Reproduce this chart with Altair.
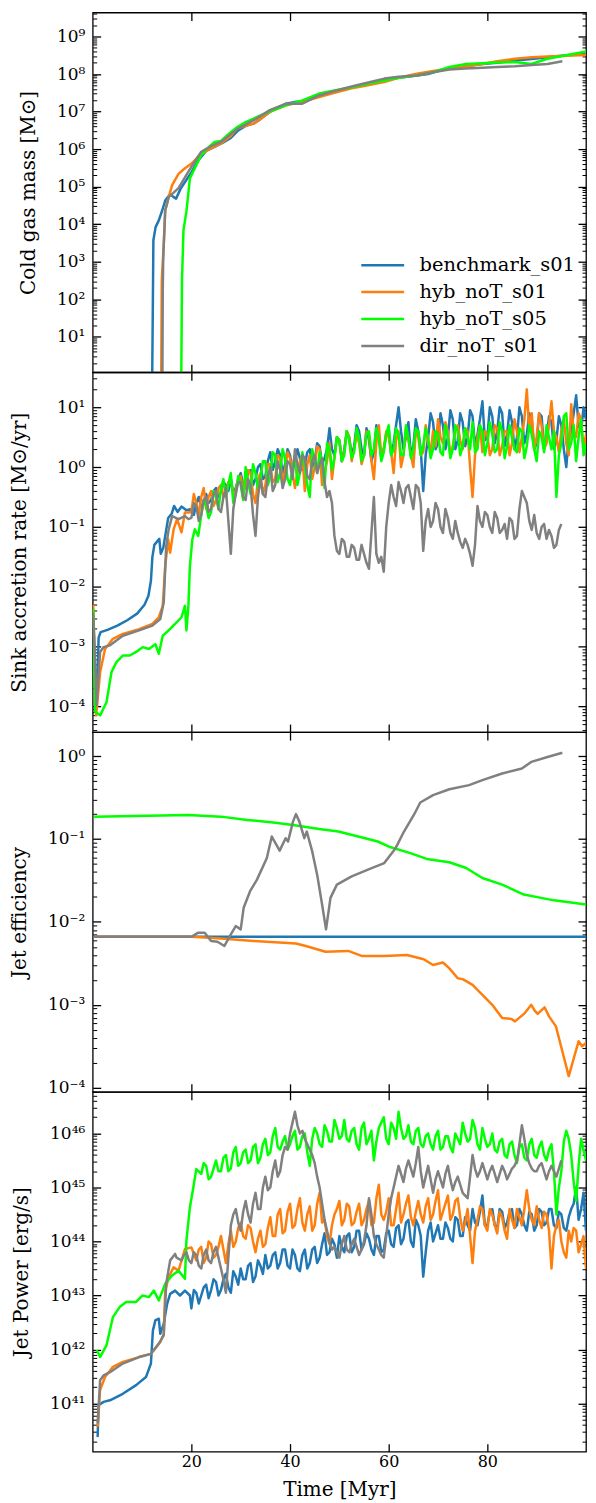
import numpy as np
import pandas as pd
import altair as alt

FONT = "DejaVu Serif"
W, H = 495, 361

SERIES = ["benchmark_s01", "hyb_noT_s01", "hyb_noT_s05", "dir_noT_s01"]
COLORS = ["#1f77b4", "#ff7f0e", "#00ff00", "#808080"]
XTICKS = [20, 40, 60, 80]

# ---------------- Panel 1: cold gas mass (log10 Msun) ----------------
P1_BENCH_T = [12.0, 12.2, 12.3, 12.75, 13.4, 14.1, 14.7, 15.7, 16.4, 16.9, 17.8, 18.7, 20.0, 21.4, 23, 25,
              26.5, 28, 29.5, 31, 32.6, 34, 35.9, 37.5, 39.2, 41, 42.5, 44, 45.9, 48, 50, 52.5, 55, 57,
              59.1, 62, 65.7, 68, 70, 72.3, 75, 79, 82, 85.6, 89, 92.2, 96, 100]
P1_BENCH = [-1, 2.0, 3.57, 3.92, 4.1, 4.37, 4.63, 4.8, 4.72, 4.68, 4.94, 5.12, 5.38, 5.7, 5.95, 6.08,
            6.18, 6.3, 6.5, 6.62, 6.68, 6.8, 6.99, 7.1, 7.21, 7.26, 7.26, 7.35, 7.43, 7.5, 7.56, 7.65, 7.72, 7.78,
            7.83, 7.9, 7.96, 8.0, 8.08, 8.16, 8.2, 8.27, 8.3, 8.36, 8.4, 8.45, 8.5, 8.54]
P1_HYB1_T = [13.85, 14.0, 14.4, 14.7, 15.1, 15.4, 16.1, 17.4, 18.7, 20.1, 21.4, 23.3, 26, 28, 29.3, 31,
             32.6, 34, 35.9, 39.2, 42.5, 45.9, 49, 52.5, 55, 59.1, 62, 65.7, 69, 72.3, 75.5, 79, 82, 85.6,
             89, 92.2, 96, 100]
P1_HYB1 = [-1, 2.5, 3.45, 4.37, 4.55, 4.72, 5.04, 5.34, 5.49, 5.62, 5.8, 5.97, 6.15, 6.35, 6.55, 6.62,
           6.68, 6.8, 6.99, 7.17, 7.26, 7.39, 7.5, 7.62, 7.68, 7.79, 7.9, 8.01, 8.08, 8.14, 8.2, 8.27, 8.34, 8.41,
           8.45, 8.47, 8.49, 8.51]
P1_HYB5_T = [17.9, 18.1, 18.4, 19.0, 19.7, 20.7, 22.0, 23.5, 24.7, 26, 27.5, 29.3, 31, 32.6, 34, 35.9,
             39.2, 42.5, 45.9, 49, 52.5, 55, 59.1, 62, 65.7, 69, 72.3, 75.7, 79, 82, 85.6, 88.9, 92.2, 96, 100]
P1_HYB5 = [-1, 2.5, 3.84, 4.34, 5.22, 5.49, 5.84, 6.05, 6.19, 6.22, 6.4, 6.59, 6.72, 6.81, 6.9, 7.0,
           7.17, 7.3, 7.48, 7.56, 7.65, 7.72, 7.83, 7.9, 7.96, 8.05, 8.19, 8.27, 8.29, 8.31, 8.32, 8.27, 8.41, 8.5, 8.6]
P1_DIR_T = [14.1, 14.2, 14.3, 14.7, 15.4, 17.4, 19.4, 22, 24, 26, 28, 29.5, 30.8, 33, 35.9, 39.2, 42.5,
            45.9, 49, 52.5, 55, 59.1, 62, 65.7, 69, 72.3, 75.5, 79, 82, 85.6, 89, 92.2, 95.2]
P1_DIR = [-1, 2.2, 3.13, 4.37, 4.72, 4.96, 5.4, 5.93, 6.08, 6.19, 6.4, 6.55, 6.64, 6.8, 7.04, 7.21, 7.21,
          7.43, 7.55, 7.67, 7.75, 7.88, 7.93, 7.96, 8.05, 8.12, 8.15, 8.17, 8.19, 8.21, 8.24, 8.27, 8.34]

# ---------------- Panel 2: sink accretion rate (log10 Msun/yr) ----------------
# early part (explicit times), then noisy part on a 1 Myr grid from *_START plus the half-Myr points (*_MID)
P2_BENCH_T0 = [0.1, 0.5, 0.9, 1.2, 1.6, 3, 5, 7, 9, 10.5, 11.3, 11.8, 12.1, 12.5, 13.0, 13.5, 13.8, 14.3,
               14.8, 15.3, 16, 16.5, 17.2, 18, 19]
P2_BENCH_0 = [-2.5, -3.4, -3.8, -2.85, -2.76, -2.72, -2.65, -2.56, -2.45, -2.3, -2.15, -1.9, -1.5, -1.3,
              -1.25, -1.2, -1.45, -1.35, -1.1, -0.85, -0.78, -0.65, -0.75, -0.66, -0.72]
P2_BENCH_START = 20
P2_BENCH = [-0.7, -0.6, -0.68, -0.45, -0.55, -0.35, -0.42, -0.3, -0.2, -0.35,
            -0.1, -0.25, -0.05, -0.2, 0.05, -0.15, 0.25, 0.1, 0.2, 0.05,
            0.2, 0.1, 0.15, 0.05, 0.3, 0.1, 0.35, 0.15, 0.65, 0.2,
            0.45, 0.3, 0.5, 0.35, 0.6, 0.2, 0.45, 0.25, 0.5, 0.3,
            0.65, 0.4, 1.0, 0.3, 0.75, 0.35, 0.6, -0.4, 0.5, 0.75,
            0.4, 0.7, 0.5, 0.8, 0.45, 0.75, 0.5, 0.85, 0.55, 1.1,
            0.5, 0.85, 0.6, 0.9, 0.55, 0.75, 0.5, 0.85, 0.55, 0.8,
            0.4, 0.85, 0.5, 0.75, 0.45, 0.7, 0.0, 0.6, 1.2, 0.6,
            0.8]
P2_BENCH_MID = [-0.8, -0.5, -0.6, -0.6, -0.4, -0.5, -0.25, -0.4, -0.45, -0.2,
                -0.3, -0.1, -0.3, 0.0, -0.2, 0.1, -0.05, 0.3, -0.1, 0.3,
                -0.05, 0.3, -0.05, 0.25, 0.0, 0.4, 0.05, 0.3, 0.3, 0.5,
                0.1, 0.6, 0.2, 0.7, 0.3, 0.65, 0.1, 0.7, 0.15, 0.55,
                0.2, 0.7, 0.6, 0.5, 0.2, 0.8, 0.3, 0.2, 0.9, 0.3,
                0.9, 0.3, 0.95, 0.3, 0.9, 0.35, 0.95, 0.35, 0.8, 0.45,
                1.0, 0.4, 1.0, 0.35, 0.95, 0.3, 1.0, 0.4, 0.9, 0.3,
                0.9, 0.3, 0.85, 0.3, 0.85, 0.3, 0.5, 0.9, 0.7, 1.0]
P2_HYB1_T0 = [0.1, 0.7, 1.5, 2.5, 4.1, 6.1, 9.4, 12.1, 13.4, 14.2, 14.7, 15.3, 15.7, 16.4, 17.1, 18.0, 18.7, 19.4]
P2_HYB1_0 = [-2.3, -4.15, -3.43, -3.04, -2.87, -2.79, -2.71, -2.62, -2.51, -2.32, -1.65, -1.21, -1.43,
             -1.04, -0.87, -1.09, -0.76, -0.76]
P2_HYB1_START = 20
P2_HYB1 = [-0.75, -0.6, -0.5, -0.7, -0.4, -0.55, -0.3, -0.45, -0.2, -0.4,
           -0.15, -0.35, -0.1, -0.6, -0.1, -0.3, 0.05, -0.2, 0.15, -0.05,
           0.15, -0.35, 0.1, -0.4, 0.2, 0.0, 0.3, -0.1, 0.4, 0.15,
           0.45, 0.25, 0.5, 0.3, 0.4, 0.2, 0.55, -0.2, 0.7, 0.3,
           0.5, -0.1, 0.6, 0.2, 0.45, 0.0, 0.5, 0.25, 0.4, 0.6,
           0.8, 0.4, 0.6, 0.35, 0.7, 0.3, 0.6, -0.5, 0.5, 0.25,
           0.55, 0.3, 0.65, 0.35, 0.6, 0.4, 0.6, 0.5, 1.3, 0.9,
           0.5, 0.7, 0.4, 1.1, 0.5, 0.6, 0.4, 1.05, 0.5, 0.8,
           0.55]
P2_HYB1_MID = [-0.45, -0.8, -0.35, -0.5, -0.65, -0.35, -0.5, -0.25, -0.45, -0.2,
               -0.4, -0.05, -0.45, -0.2, -0.45, 0.05, -0.25, 0.2, -0.3, 0.25,
               -0.1, -0.1, 0.2, 0.05, -0.2, 0.35, -0.3, 0.1, -0.2, 0.5,
               0.1, 0.6, 0.1, 0.55, 0.05, 0.6, 0.1, 0.4, 0.2, 0.6,
               0.25, 0.45, 0.0, 0.65, 0.2, 0.6, 0.2, 0.7, 0.25, 0.35,
               0.5, 0.75, 0.2, 0.6, 0.45, 0.65, 0.0, 0.2, 0.7, 0.6,
               0.2, 0.7, 0.2, 0.6, 0.2, 0.8, 0.25, 0.8, 0.6, 0.3,
               0.9, 0.3, 0.7, 0.6, 0.25, 0.8, 0.2, 0.6, 0.9, 0.3]
P2_HYB5_T0 = [0.1, 0.5, 1.5, 2.8, 3.8, 4.8, 6.1, 7.5, 8.8, 10.1, 11.4, 12.7, 13.4, 14.2, 15.4, 16.7, 18.0,
              18.7, 19.0, 19.4, 19.7, 20.2, 20.7, 21.4]
P2_HYB5_0 = [-2.37, -4.09, -4.15, -3.93, -3.43, -3.26, -3.15, -3.15, -3.09, -3.01, -3.04, -2.96, -3.12,
             -2.82, -2.73, -2.62, -2.51, -2.32, -2.73, -2.32, -1.65, -1.21, -1.04, -1.15]
P2_HYB5_START = 22
P2_HYB5 = [-0.8, -0.65, -0.75, -0.5, -0.35, -0.5, -0.1, -0.45, -0.3, 0.0,
           -0.45, -0.1, -0.2, 0.1, -0.15, 0.2, -0.1, 0.15, -0.3, 0.2,
           -0.1, 0.0, -0.5, 0.1, 0.25, -0.35, 0.3, 0.15, 0.45, 0.2,
           0.45, 0.25, 0.5, 0.2, 0.6, 0.3, 0.5, 0.25, 0.7, 0.3,
           0.55, 0.2, 0.5, 0.3, 0.6, 0.35, 0.5, 0.3, 0.55, 0.2,
           0.5, 0.3, 0.6, 0.35, 0.5, 0.75, 0.3, 0.6, 0.4, 0.55,
           0.3, 0.6, 0.35, 0.5, 0.25, 0.6, 0.35, 0.55, 0.1, 0.5,
           0.7, 0.3, -0.5, 0.4, 0.9, 0.4, 0.1, 0.8, 0.4]
P2_HYB5_MID = [-0.55, -0.85, -0.4, -0.7, -0.2, -0.3, -0.6, -0.15, -0.55, -0.25,
               0.05, -0.35, 0.1, -0.3, 0.25, -0.25, 0.3, -0.2, 0.0, -0.3,
               0.25, -0.3, 0.3, -0.1, 0.1, 0.4, -0.05, 0.5, 0.1, 0.6,
               0.15, 0.65, 0.1, 0.55, 0.2, 0.65, 0.1, 0.55, 0.2, 0.65,
               0.2, 0.7, 0.15, 0.65, 0.2, 0.65, 0.15, 0.6, 0.25, 0.7,
               0.15, 0.7, 0.2, 0.65, 0.3, 0.25, 0.7, 0.2, 0.75, 0.25,
               0.75, 0.15, 0.7, 0.3, 0.65, 0.15, 0.7, 0.3, 0.6, 0.25,
               0.5, 0.6, 0.2, 0.85, 0.3, 0.7, 0.5, 0.2]
P2_DIR_T0 = [0.1, 0.8, 1.5, 2.2, 3.5, 6.1, 9.4, 12.1, 13.7, 14.4, 14.9, 15.4, 16.1, 17.4, 18.7, 19.4]
P2_DIR_0 = [-2.43, -3.98, -3.09, -3.01, -2.98, -2.82, -2.73, -2.65, -2.54, -2.26, -1.32, -1.04, -0.82,
            -0.87, -0.82, -0.87]
P2_DIR_START = 20
P2_DIR = [-0.85, -0.65, -0.8, -0.5, -0.7, -0.4, -0.75, -0.35, -1.45, -0.45,
          -0.25, -0.55, -0.3, -1.15, -0.2, -0.5, 0.0, -0.3, -0.05, -0.2,
          0.05, 0.3, -0.1, 0.15, -0.2, 0.2, 0.05, -0.25, -0.4, -1.15,
          -1.45, -1.25, -1.5, -1.35, -1.55, -1.45, -1.7, -0.5, -1.6, -1.75,
          -0.6, -0.5, -0.25, -0.6, -0.3, -0.7, -0.35, -1.4, -0.7, -0.9,
          -0.7, -1.1, -0.85, -1.2, -1.1, -1.35, -1.3, -1.65, -0.65, -1.0,
          -0.8, -1.1, -0.85, -1.05, -1.2, -0.9, -1.15, -0.4, -0.6, -1.05,
          -1.1, -1.0, -1.2, -1.15, -1.3, -0.95]
P2_DIR_MID = [-0.6, -0.9, -0.55, -0.75, -0.45, -0.7, -0.5, -0.9, -0.7, -0.25,
              -0.5, -0.2, -0.8, -0.5, -0.45, -0.15, -0.4, 0.1, -0.35, 0.1,
              -0.2, 0.05, 0.2, -0.15, 0.1, -0.1, 0.15, -0.5, -0.6, -1.4,
              -1.2, -1.5, -1.3, -1.55, -1.3, -1.6, -1.1, -1.45, -1.5, -1.0,
              -0.3, -0.65, -0.4, -0.35, -0.5, -0.3, -0.6, -0.9, -1.0, -0.6,
              -1.0, -0.7, -1.1, -0.9, -1.25, -1.2, -1.45, -1.3, -0.9, -0.75,
              -1.0, -0.75, -1.1, -0.95, -0.85, -1.2, -0.7, -0.5, -0.9, -0.8,
              -1.2, -0.95, -1.05, -1.35, -1.05]

# ---------------- Panel 3: jet efficiency (log10) ----------------
P3_BENCH_T = [0.3, 100]
P3_BENCH = [-2.18, -2.18]
P3_HYB1_T = [0.3, 20, 26, 32.6, 37, 41.2, 43.2, 47.2, 51.8, 54.5, 59.1, 63.7, 65.7, 67.1, 69, 71, 72.3, 74,
             75, 77, 79, 81, 83, 84.9, 85.6, 87.6, 88.9, 89.6, 90.2, 91.6, 92.5, 93.9, 95.2, 96.5, 98.5, 99.2, 100]
P3_HYB1 = [-2.18, -2.18, -2.2, -2.23, -2.245, -2.26, -2.29, -2.36, -2.35, -2.41, -2.41, -2.40, -2.43, -2.45,
           -2.52, -2.49, -2.56, -2.68, -2.69, -2.76, -2.88, -3.0, -3.16, -3.17, -3.2, -3.1, -3.0, -3.07,
           -3.11, -3.03, -3.14, -3.26, -3.56, -3.86, -3.44, -3.5, -3.46]
P3_HYB5_T = [0.3, 19.4, 26, 31.3, 36.6, 40.6, 45.9, 49.8, 53.8, 57.8, 60.4, 64.4, 67.7, 72.3, 75.7, 79, 83,
             87.4, 90.9, 93.5, 100]
P3_HYB5 = [-0.73, -0.71, -0.73, -0.77, -0.8, -0.83, -0.88, -0.91, -0.97, -1.03, -1.1, -1.17, -1.24, -1.28,
           -1.35, -1.47, -1.55, -1.67, -1.71, -1.74, -1.79]
P3_DIR_T = [0.3, 20, 21.4, 22.7, 24, 25.3, 26.7, 28, 29, 30, 30.6, 31.9, 33.3, 35.3, 36.3, 37.9, 39.1, 39.6,
            40.6, 41.2, 41.9, 42.9, 43.4, 44.5, 45.5, 46.5, 47.3, 48.2, 49.5, 52.5, 55.8, 59.1, 61.4, 63.1,
            65.1, 66.4, 69, 72.3, 76.3, 79, 83, 87, 88.9, 92.2, 95.2]
P3_DIR = [-2.18, -2.18, -2.13, -2.13, -2.23, -2.24, -2.29, -2.15, -2.05, -2.09, -1.83, -1.63, -1.49, -1.23,
          -0.97, -1.14, -0.99, -1.03, -0.79, -0.7, -0.79, -0.99, -0.91, -1.15, -1.43, -1.79, -2.09, -1.71,
          -1.55, -1.45, -1.37, -1.29, -1.11, -0.91, -0.71, -0.56, -0.47, -0.4, -0.35, -0.29, -0.21, -0.15,
          -0.07, -0.01, 0.04]

# ---------------- Panel 4: jet power (log10 erg/s) ----------------
P4_BENCH_T0 = [1.0, 1.2, 2.2, 3.5, 6.1, 8.8, 10.8, 11.8, 12.2, 12.7, 13.4, 13.7, 14.4, 15.1, 15.7, 16.7,
               17.7, 18.7, 19.7]
P4_BENCH_0 = [40.38, 40.97, 41.03, 41.06, 41.18, 41.34, 41.49, 41.74, 42.35, 42.54, 42.57, 42.29, 42.48,
              42.85, 43.03, 43.09, 43.0, 43.09, 43.0]
P4_BENCH_START = 20
P4_BENCH = [42.76, 43.05, 43.0, 43.2, 43.1, 43.25, 43.1, 43.4, 43.05, 43.35,
            43.5, 43.3, 43.6, 43.35, 43.55, 43.75, 43.55, 43.8, 43.6, 43.85,
            43.5, 43.75, 43.45, 43.85, 43.6, 43.9, 43.7, 44.15, 43.8, 43.95,
            44.1, 43.8, 44.15, 43.9, 44.2, 43.95, 44.05, 43.75, 44.1, 43.85,
            44.2, 43.9, 44.3, 44.05, 44.4, 43.9, 44.3, 43.35, 44.2, 44.0,
            44.3, 44.05, 44.25, 44.0, 44.4, 44.1, 44.3, 44.6, 44.3, 44.85,
            44.3, 44.6, 44.25, 44.55, 44.35, 44.6, 44.3, 44.5, 44.2, 44.5,
            44.3, 44.55, 44.35, 44.6, 44.25, 44.5, 44.2, 44.6, 45.0, 44.6,
            44.2]
P4_BENCH_MID = [43.1, 42.85, 43.15, 42.95, 43.3, 43.0, 43.3, 43.15, 43.45, 43.2,
                43.3, 43.55, 43.25, 43.65, 43.4, 43.5, 43.75, 43.5, 43.85, 43.55,
                43.85, 43.5, 43.75, 43.5, 43.85, 43.6, 43.95, 43.75, 44.05, 43.7,
                43.9, 44.1, 43.8, 44.2, 43.85, 44.15, 43.85, 44.1, 43.8, 44.15,
                43.95, 44.25, 43.95, 44.35, 44.0, 44.4, 44.1, 43.8, 44.35, 44.15,
                44.05, 44.35, 44.05, 44.45, 44.1, 44.45, 44.2, 44.35, 44.55, 44.3,
                44.55, 44.3, 44.6, 44.25, 44.55, 44.25, 44.6, 44.3, 44.55, 44.2,
                44.6, 44.3, 44.6, 44.3, 44.55, 44.25, 44.45, 44.7, 44.4, 44.9]
P4_HYB1_T0 = [1.0, 1.5, 2.5, 4.1, 6.1, 9.4, 11.8, 12.7, 13.7, 14.4, 14.7, 15.4, 16.4, 17.4, 18.7, 20.0]
P4_HYB1_0 = [40.57, 41.25, 41.49, 41.68, 41.77, 41.86, 41.92, 42.02, 42.14, 42.29, 43.09, 43.34, 43.52,
             43.46, 43.86, 43.89]
P4_HYB1_START = 21
P4_HYB1 = [43.65, 43.9, 43.7, 43.95, 43.75, 44.1, 43.6, 44.2, 44.0, 44.35,
           44.05, 44.25, 43.8, 44.2, 43.95, 44.45, 44.1, 44.6, 44.2, 44.7,
           44.3, 44.8, 44.2, 44.65, 44.3, 44.9, 44.4, 43.95, 44.5, 44.75,
           44.4, 44.65, 44.35, 44.7, 44.4, 44.75, 44.35, 45.05, 44.4, 44.8,
           44.3, 44.9, 44.5, 44.85, 44.3, 44.75, 44.35, 44.8, 44.5, 44.95,
           44.55, 44.85, 44.5, 44.8, 44.2, 44.6, 43.6, 44.4, 44.6, 44.2,
           44.5, 44.15, 44.45, 44.05, 44.4, 44.6, 44.3, 44.95, 44.4, 44.65,
           44.25, 44.5, 43.5, 44.3, 44.0, 43.7, 44.0, 44.2, 43.95, 43.5]
P4_HYB1_MID = [43.85, 43.6, 44.0, 43.7, 43.9, 43.85, 43.95, 43.9, 44.25, 44.1,
               44.3, 44.0, 44.05, 43.9, 44.25, 44.1, 44.5, 44.15, 44.55, 44.25,
               44.6, 44.35, 44.5, 44.2, 44.7, 44.35, 44.1, 44.3, 44.6, 44.3,
               44.7, 44.3, 44.55, 44.3, 44.6, 44.3, 44.8, 44.5, 44.55, 44.3,
               44.6, 44.35, 44.7, 44.45, 44.55, 44.5, 44.65, 44.4, 44.75, 44.4,
               44.7, 44.4, 44.75, 44.45, 44.35, 44.1, 44.2, 44.65, 44.3, 44.6,
               44.3, 44.55, 44.2, 44.6, 44.25, 44.45, 44.6, 44.6, 44.3, 44.4,
               44.55, 44.2, 44.1, 44.4, 43.8, 44.2, 44.25, 43.8, 44.1]
P4_HYB5_T0 = [0.8, 1.5, 2.8, 4.1, 5.5, 6.8, 8.8, 10.1, 11.4, 12.4, 13.4, 14.7, 16.1, 17.4, 18.7, 19.0, 19.7,
              20.4, 21.0]
P4_HYB5_0 = [41.99, 41.86, 42.08, 42.6, 42.79, 42.88, 42.88, 43.0, 42.97, 43.09, 42.91, 43.22, 43.37, 43.46,
             43.31, 44.02, 44.63, 45.0, 45.34]
P4_HYB5_START = 22
P4_HYB5 = [45.25, 45.4, 45.2, 45.5, 45.3, 45.6, 45.35, 45.75, 45.45, 45.7,
           45.5, 45.8, 45.55, 45.9, 45.65, 46.1, 45.7, 45.95, 45.8, 46.05,
           45.75, 46.0, 45.4, 46.1, 45.8, 46.15, 45.85, 46.25, 45.9, 46.25,
           45.85, 46.1, 45.7, 46.2, 45.9, 45.5, 46.1, 46.3, 45.8, 46.1,
           46.4, 45.9, 46.15, 45.8, 46.1, 45.75, 46.0, 45.7, 46.05, 45.75,
           45.95, 45.65, 45.9, 46.2, 45.85, 46.25, 45.8, 46.1, 45.75, 46.0,
           45.65, 45.9, 45.55, 45.85, 45.45, 45.8, 45.5, 45.9, 45.55, 45.85,
           45.5, 45.8, 44.5, 45.3, 46.05, 45.6, 44.75, 45.9, 45.5]
P4_HYB5_MID = [45.45, 45.15, 45.35, 45.3, 45.55, 45.3, 45.65, 45.4, 45.65, 45.45,
               45.75, 45.45, 45.8, 45.6, 45.95, 45.75, 45.85, 45.7, 45.95, 45.7,
               45.95, 45.65, 45.9, 46.0, 45.75, 46.05, 45.85, 46.1, 45.95, 45.9,
               46.05, 45.8, 46.1, 45.8, 46.05, 45.85, 46.2, 45.9, 46.2, 45.9,
               46.1, 45.95, 45.85, 46.05, 45.8, 45.95, 45.8, 45.95, 45.7, 45.95,
               45.75, 46.0, 45.8, 46.0, 45.9, 46.1, 45.7, 45.9, 45.8, 45.7,
               45.85, 45.6, 45.8, 45.6, 45.75, 45.55, 45.8, 45.6, 45.75, 45.6,
               45.7, 45.3, 45.0, 45.85, 45.9, 45.1, 45.4, 45.7]
P4_DIR_T0 = [1.0, 1.5, 2.2, 3.5, 6.1, 9.4, 11.8, 13.4, 14.4, 14.9, 15.7, 16.7, 17.0]
P4_DIR_0 = [40.63, 41.43, 41.52, 41.58, 41.74, 41.86, 41.92, 42.11, 42.26, 43.22, 43.65, 43.77, 43.7]
P4_DIR_START = 18
P4_DIR = [43.65, 43.8, 43.6, 43.75, 43.5, 43.85, 43.6, 43.9, 43.5, 43.05,
          44.3, 44.6, 44.2, 44.75, 44.35, 44.9, 44.6, 45.2, 45.0, 45.5,
          45.3, 45.75, 46.0, 46.4, 46.0, 45.9, 45.7, 45.45, 45.0, 44.4,
          44.0, 43.9, 43.7, 44.1, 43.8, 44.05, 43.75, 44.0, 44.8, 44.1,
          43.85, 43.7, 44.5, 45.0, 45.4, 45.1, 45.5, 45.2, 45.75, 45.0,
          45.4, 44.9, 45.3, 45.0, 45.4, 44.95, 45.2, 44.9, 44.8, 45.6,
          45.2, 45.45, 45.15, 45.4, 45.1, 45.4, 45.15, 45.35, 45.5, 46.15,
          45.6, 45.35, 45.3, 45.45, 45.15, 45.4, 45.2, 45.5]
P4_DIR_MID = [43.75, 43.65, 43.8, 43.55, 43.75, 43.65, 43.8, 43.7, 43.3, 43.7,
              44.5, 44.35, 44.55, 44.5, 44.7, 44.6, 45.0, 44.95, 45.3, 45.2,
              45.6, 45.7, 46.2, 46.15, 46.05, 45.8, 45.6, 45.2, 44.7, 44.2,
              43.85, 43.8, 43.95, 43.85, 43.95, 43.9, 43.85, 44.3, 44.5, 43.95,
              43.75, 44.1, 44.8, 45.2, 45.25, 45.35, 45.35, 45.45, 45.3, 45.2,
              45.15, 45.15, 45.15, 45.25, 45.15, 45.1, 45.05, 44.85, 45.2, 45.35,
              45.3, 45.3, 45.3, 45.25, 45.25, 45.3, 45.25, 45.4, 45.8, 45.9,
              45.45, 45.3, 45.4, 45.3, 45.3, 45.3, 45.35]


def joined(t0, v0, start, vals, mid=()):
    t = list(t0) + [start + i for i in range(len(vals))] + [start + 0.5 + i for i in range(len(mid))]
    v = list(v0) + list(vals) + list(mid)
    order = np.argsort(np.array(t, dtype=float), kind="stable")
    return [t[i] for i in order], [v[i] for i in order]


PANELS = [
    dict(lo=0.05, hi=9.64, title="Cold gas mass [M\u2299]",
         data=[(P1_BENCH_T, P1_BENCH), (P1_HYB1_T, P1_HYB1), (P1_HYB5_T, P1_HYB5), (P1_DIR_T, P1_DIR)]),
    dict(lo=-4.43, hi=1.585, title="Sink accretion rate [M\u2299/yr]",
         data=[joined(P2_BENCH_T0, P2_BENCH_0, P2_BENCH_START, P2_BENCH, P2_BENCH_MID),
               joined(P2_HYB1_T0, P2_HYB1_0, P2_HYB1_START, P2_HYB1, P2_HYB1_MID),
               joined(P2_HYB5_T0, P2_HYB5_0, P2_HYB5_START, P2_HYB5, P2_HYB5_MID),
               joined(P2_DIR_T0, P2_DIR_0, P2_DIR_START, P2_DIR, P2_DIR_MID)]),
    dict(lo=-4.05, hi=0.29, title="Jet efficiency",
         data=[(P3_BENCH_T, P3_BENCH), (P3_HYB1_T, P3_HYB1), (P3_HYB5_T, P3_HYB5), (P3_DIR_T, P3_DIR)]),
    dict(lo=40.11, hi=46.77, title="Jet Power [erg/s]",
         data=[joined(P4_BENCH_T0, P4_BENCH_0, P4_BENCH_START, P4_BENCH, P4_BENCH_MID),
               joined(P4_HYB1_T0, P4_HYB1_0, P4_HYB1_START, P4_HYB1, P4_HYB1_MID),
               joined(P4_HYB5_T0, P4_HYB5_0, P4_HYB5_START, P4_HYB5, P4_HYB5_MID),
               joined(P4_DIR_T0, P4_DIR_0, P4_DIR_START, P4_DIR, P4_DIR_MID)]),
]

SUP = str.maketrans("-0123456789", "\u207b\u2070\u00b9\u00b2\u00b3\u2074\u2075\u2076\u2077\u2078\u2079")


def label_expr(decs):
    expr = "''"
    for d in decs:
        expr = f"(round(log(datum.value)/LN10) == {d}) ? '10{str(d).translate(SUP)}' : ({expr})"
    return expr


def tick_axis(orient, values, size, offset, width):
    return alt.Axis(orient=orient, values=values, tickSize=size, tickWidth=width, tickColor="black",
                    ticks=True, labels=False, domain=False, grid=False, title=None, offset=offset)


def make_panel(p, bottom, legend):
    lo, hi = p["lo"], p["hi"]
    xs = alt.Scale(domain=[0, 100], nice=False, zero=False)
    ys = alt.Scale(type="log", domain=[10.0 ** lo, 10.0 ** hi], nice=False)
    decs = list(range(int(np.ceil(lo)), int(np.floor(hi)) + 1))
    majors = [10.0 ** d for d in decs]
    minors = []
    for d in range(int(np.floor(lo)), int(np.ceil(hi))):
        for k in range(2, 10):
            v = k * 10.0 ** d
            if lo <= np.log10(v) <= hi:
                minors.append(v)
    cscale = alt.Scale(domain=SERIES, range=COLORS)
    layers = []
    for i, (name, (t, lv)) in enumerate(zip(SERIES, p["data"])):
        df = pd.DataFrame({"t": t, "v": np.power(10.0, np.array(lv, dtype=float)), "series": name})
        xkw = dict(scale=xs)
        ykw = dict(scale=ys)
        if i == 0:
            if bottom:
                xkw["axis"] = alt.Axis(orient="bottom", values=XTICKS, ticks=False, tickSize=0, domain=False,
                                       grid=False, labelFont=FONT, labelFontSize=16, labelColor="black",
                                       labelPadding=2, labelFlush=False, title="Time [Myr]", titleFont=FONT,
                                       titleFontSize=20, titleFontWeight="normal", titleColor="black",
                                       titlePadding=10)
            else:
                xkw["axis"] = None
            ykw["axis"] = alt.Axis(orient="left", values=majors, labelExpr=label_expr(decs), ticks=False,
                                   tickSize=0, domain=False, grid=False, labelFont=FONT, labelFontSize=17,
                                   labelColor="black", labelPadding=8, labelFlush=False, labelOverlap=False,
                                   title=p["title"], titleFont=FONT, titleFontSize=20,
                                   titleFontWeight="normal", titleColor="black", titlePadding=18)
        else:
            xkw["axis"] = None
            ykw["axis"] = None
        ckw = dict(scale=cscale)
        ckw["legend"] = legend if legend is not None else None
        layers.append(
            alt.Chart(df).mark_line(strokeWidth=2.5, clip=True, strokeJoin="round").encode(
                x=alt.X("t:Q", **xkw),
                y=alt.Y("v:Q", **ykw),
                color=alt.Color("series:N", **ckw),
            )
        )
    frame = pd.DataFrame({"t": [0.0, 100.0], "v": [10.0 ** lo, 10.0 ** hi]})

    def tick_layer(xorient, yorient, yvals, ysize, ywidth):
        xkw = dict(scale=xs)
        if xorient is not None:
            xkw["axis"] = tick_axis(xorient, XTICKS, 8, -H, 1.3)
        else:
            xkw["axis"] = None
        return alt.Chart(frame).mark_line(opacity=0).encode(
            x=alt.X("t:Q", **xkw),
            y=alt.Y("v:Q", scale=ys, axis=tick_axis(yorient, yvals, ysize, -W, ywidth)),
        )

    layers.append(tick_layer("top", "right", majors, 8, 1.3))
    layers.append(tick_layer("bottom", "left", majors, 8, 1.3))
    layers.append(tick_layer(None, "right", minors, 4, 1.0))
    layers.append(tick_layer(None, "left", minors, 4, 1.0))
    return alt.layer(*layers).resolve_axis(x="independent", y="independent").properties(width=W, height=H)


legend = alt.Legend(orient="none", legendX=268, legendY=241, title=None, symbolType="stroke",
                    symbolSize=1849, symbolStrokeWidth=2.5, labelFont=FONT, labelFontSize=19.5,
                    labelColor="black", labelOffset=14, clipHeight=25, rowPadding=2, padding=0,
                    labelLimit=400)

panels = [make_panel(p, i == 3, legend if i == 0 else None) for i, p in enumerate(PANELS)]

chart = alt.vconcat(*panels, spacing=0, bounds="flush").properties(
    padding={"left": 0, "top": 0, "right": 0, "bottom": 0}
).configure_view(stroke="black", strokeWidth=1.3)

chart.save("out.html", embed_options={"renderer": "svg", "actions": False})
